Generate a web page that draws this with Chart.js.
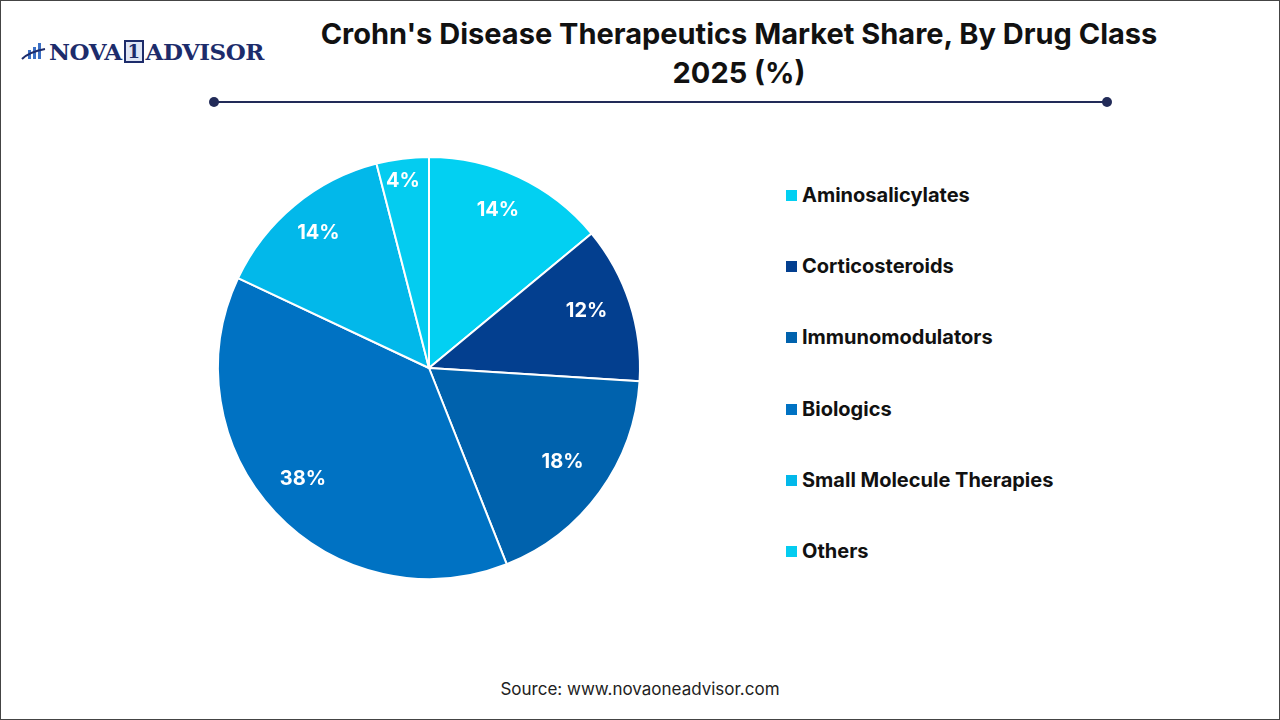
<!DOCTYPE html>
<html>
<head>
<meta charset="utf-8">
<script src="https://cdn.jsdelivr.net/npm/chart.js"></script>
<style>
	body { margin: 0; background: #fff; }
	#page { position: relative; width: 1278px; height: 718px; border: 1px solid #444; overflow: hidden; font-family: Inter, "Open Sans", sans-serif; }
	#logo { position: absolute; left: 20px; top: 35px; height: 30px; display: flex; align-items: center; font-family: "DejaVu Serif", "Liberation Serif", serif; font-weight: bold; font-size: 23px; color: #1d2c6b; letter-spacing: -0.5px; }
	#logo .one { display: inline-block; border: 2px solid #1d2c6b; background: #dfe6f5; font-size: 18px; line-height: 19px; padding: 0 2px; margin: 0 2px; }
	#title { position: absolute; left: 240px; width: 996px; top: 13px; text-align: center; font-weight: bold; font-size: 29px; line-height: 39px; color: #111; }
	#rule { position: absolute; left: 213px; width: 893px; top: 100px; height: 2px; background: #222b58; }
	.dot { position: absolute; top: 96px; width: 10px; height: 10px; border-radius: 50%; background: #222b58; }
	#pie { position: absolute; left: 198px; top: 137px; width: 460px; height: 460px; }
	#legend { position: absolute; left: 785px; top: 183px; }
	.item { height: 71.2px; display: flex; align-items: flex-start; font-weight: bold; font-size: 20px; line-height: 22px; color: #111; }
	.box { width: 11px; height: 11px; margin: 6px 5px 0 0; }
	#source { position: absolute; left: 0; width: 1278px; top: 678px; text-align: center; font-size: 17px; color: #222; }
</style>
</head>
<body>
<div id="page">
	<div id="logo">
		<svg width="26" height="22" viewBox="0 0 26 22" style="margin-right:2px">
			<rect x="7" y="10" width="3" height="9" fill="#3a6fc4"/>
			<rect x="12" y="7" width="3" height="12" fill="#3a6fc4"/>
			<rect x="17" y="3" width="3" height="16" fill="#3a6fc4"/>
			<path d="M1 19 Q8 12 24 9" stroke="#1d2c6b" stroke-width="2" fill="none"/>
		</svg>
		<span>NOVA</span><span class="one">1</span><span>ADVISOR</span>
	</div>
	<div id="title">Crohn's Disease Therapeutics Market Share, By Drug Class<br>2025 (%)</div>
	<div id="rule"></div>
	<div class="dot" style="left:208px"></div>
	<div class="dot" style="left:1101px"></div>
	<div id="pie"><canvas id="chart" width="460" height="460"></canvas></div>
	<div id="legend"></div>
	<div id="source">Source: www.novaoneadvisor.com</div>
</div>
<script>
var categories = ["Aminosalicylates", "Corticosteroids", "Immunomodulators", "Biologics", "Small Molecule Therapies", "Others"];
var shares = [14, 12, 18, 38, 14, 4];
var colors = ["#02d0f2", "#033f8f", "#0062ad", "#0072c3", "#02b8ea", "#04ccf0"];

var legend = document.getElementById('legend');
categories.forEach(function(name, i) {
	var item = document.createElement('div');
	item.className = 'item';
	item.innerHTML = '<span class="box" style="background:' + colors[i] + '"></span>' + name;
	legend.appendChild(item);
});

// percent labels drawn inside each slice
var sliceLabels = {
	id: 'sliceLabels',
	afterDatasetsDraw: function(chart) {
		var ctx = chart.ctx;
		var meta = chart.getDatasetMeta(0);
		ctx.save();
		ctx.fillStyle = '#fff';
		ctx.font = 'bold 20px Inter, "Open Sans", sans-serif';
		ctx.textAlign = 'center';
		ctx.textBaseline = 'middle';
		meta.data.forEach(function(arc, i) {
			var mid = (arc.startAngle + arc.endAngle) / 2;
			var r = arc.outerRadius * (shares[i] < 6 ? 0.87 : 0.8);
			ctx.fillText(shares[i] + '%', arc.x + Math.cos(mid) * r - 3, arc.y + Math.sin(mid) * r - 5);
		});
		ctx.restore();
	}
};

new Chart(document.getElementById('chart'), {
	type: 'pie',
	data: {
		labels: categories,
		datasets: [{
			data: shares,
			backgroundColor: colors,
			borderColor: '#fff',
			borderWidth: 2,
			hoverOffset: 0
		}]
	},
	options: {
		responsive: false,
		animation: false,
		layout: { padding: 18 },
		plugins: {
			legend: { display: false },
			tooltip: { enabled: false }
		}
	},
	plugins: [sliceLabels]
});
</script>
</body>
</html>
